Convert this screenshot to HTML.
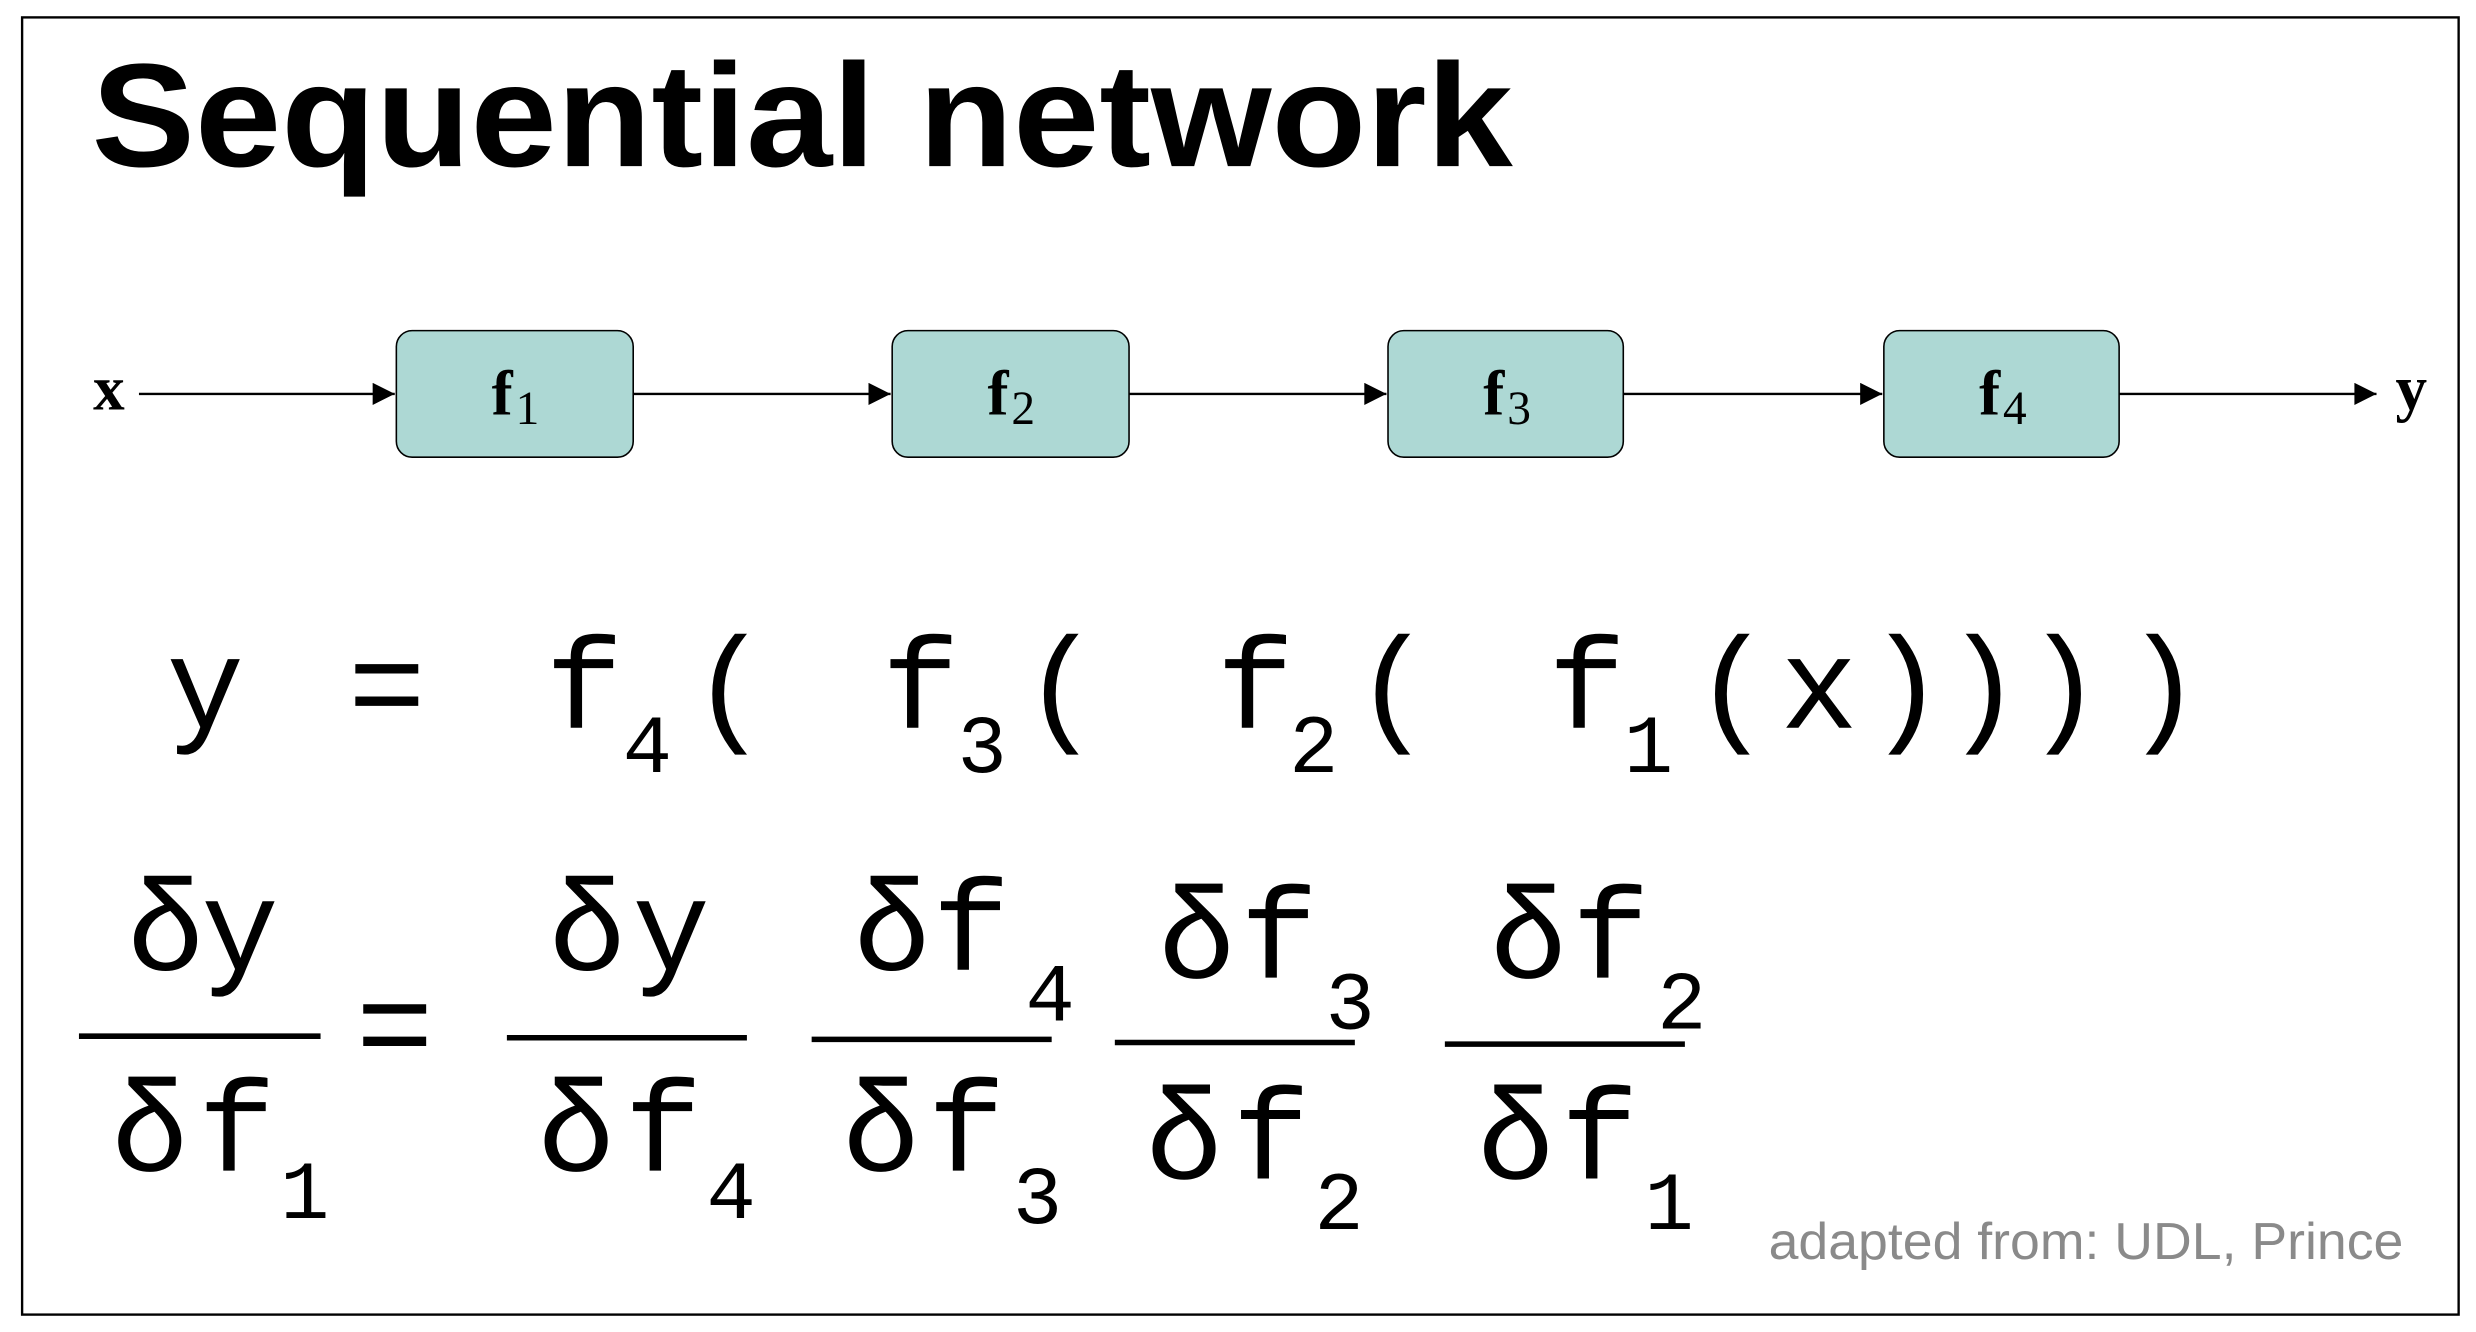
<!DOCTYPE html>
<html><head><meta charset="utf-8"><style>
html,body{margin:0;padding:0;background:#fff;width:2476px;height:1332px;overflow:hidden}
svg{display:block}
.m{font-family:"Liberation Mono","DejaVu Sans Mono",monospace;font-size:82px;text-anchor:middle;fill:#000}
.s{font-family:"Liberation Mono","DejaVu Sans Mono",monospace;font-size:52px;text-anchor:middle;fill:#000}
.b{font-family:"Liberation Serif",serif;font-weight:bold;font-size:40px;text-anchor:middle}
.bs{font-family:"Liberation Serif",serif;font-size:30px;text-anchor:middle}
</style></head><body>
<svg width="2476" height="1332" viewBox="0 0 1568 842" preserveAspectRatio="none" xmlns="http://www.w3.org/2000/svg">
<defs><marker id="a" viewBox="0 0 10 10" refX="10" refY="5" markerWidth="18" markerHeight="14" markerUnits="userSpaceOnUse" orient="auto"><path d="M0,0 L10,5 L0,10 z" fill="#000"/></marker></defs>
<rect x="14" y="11" width="1543" height="820" fill="#fff" stroke="#000" stroke-width="1.5"/>
<text x="58" y="105" font-family="Liberation Sans,Arial,sans-serif" font-weight="bold" font-size="93" textLength="900" lengthAdjust="spacingAndGlyphs">Sequential network</text>

<g stroke="#000" stroke-width="1.5" fill="none">
<line x1="88" y1="249" x2="250" y2="249" marker-end="url(#a)"/>
<line x1="401" y1="249" x2="564" y2="249" marker-end="url(#a)"/>
<line x1="715" y1="249" x2="878" y2="249" marker-end="url(#a)"/>
<line x1="1028" y1="249" x2="1192" y2="249" marker-end="url(#a)"/>
<line x1="1342" y1="249" x2="1505" y2="249" marker-end="url(#a)"/>
</g>
<g fill="#add8d4" stroke="#000" stroke-width="1">
<rect x="251" y="209" width="150" height="80" rx="10"/>
<rect x="565" y="209" width="150" height="80" rx="10"/>
<rect x="879" y="209" width="149" height="80" rx="10"/>
<rect x="1193" y="209" width="149" height="80" rx="10"/>
</g>
<text x="69" y="259" class="b">x</text>
<text x="1527" y="259" class="b">y</text>
<text x="318" y="262" class="b">f</text><text x="334" y="268" class="bs">1</text>
<text x="632" y="262" class="b">f</text><text x="648" y="268" class="bs">2</text>
<text x="946" y="262" class="b">f</text><text x="962" y="268" class="bs">3</text>
<text x="1260" y="262" class="b">f</text><text x="1276" y="268" class="bs">4</text>

<text x="130" y="460" class="m">y</text>
<text x="245" y="460" class="m">=</text>
<text x="370" y="460" class="m">f</text><text x="410" y="488" class="s">4</text>
<text x="462" y="460" class="m">(</text>
<text x="583" y="460" class="m">f</text><text x="622" y="488" class="s">3</text>
<text x="672" y="460" class="m">(</text>
<text x="795" y="460" class="m">f</text><text x="832" y="488" class="s">2</text>
<text x="882" y="460" class="m">(</text>
<text x="1005" y="460" class="m">f</text><text x="1044" y="488" class="s">1</text>
<text x="1097" y="460" class="m">(</text>
<text x="1152" y="460" class="m">x</text>
<text x="1207" y="460" class="m">)</text>
<text x="1256" y="460" class="m">)</text>
<text x="1307" y="460" class="m">)</text>
<text x="1370" y="460" class="m">)</text>

<g stroke="#000" stroke-width="3.5">
<line x1="50" y1="655" x2="203" y2="655"/>
<line x1="321" y1="656" x2="473" y2="656"/>
<line x1="514" y1="657" x2="666" y2="657"/>
<line x1="706" y1="659" x2="858" y2="659"/>
<line x1="915" y1="660" x2="1067" y2="660"/>
</g>
<text x="105" y="613" class="m">δ</text><text x="152" y="613" class="m">y</text>
<text x="95" y="740" class="m">δ</text><text x="150" y="740" class="m">f</text><text x="193" y="770" class="s">1</text>
<text x="250" y="675" class="m">=</text>
<text x="372" y="613" class="m">δ</text><text x="425" y="613" class="m">y</text>
<text x="365" y="740" class="m">δ</text><text x="420" y="740" class="m">f</text><text x="463" y="770" class="s">4</text>
<text x="565" y="613" class="m">δ</text><text x="615" y="613" class="m">f</text><text x="665" y="645" class="s">4</text>
<text x="758" y="618" class="m">δ</text><text x="810" y="618" class="m">f</text><text x="855" y="650" class="s">3</text>
<text x="558" y="740" class="m">δ</text><text x="612" y="740" class="m">f</text><text x="657" y="773" class="s">3</text>
<text x="750" y="745" class="m">δ</text><text x="805" y="745" class="m">f</text><text x="848" y="777" class="s">2</text>
<text x="968" y="618" class="m">δ</text><text x="1020" y="618" class="m">f</text><text x="1065" y="650" class="s">2</text>
<text x="960" y="745" class="m">δ</text><text x="1013" y="745" class="m">f</text><text x="1057" y="777" class="s">1</text>

<text x="1522" y="796" text-anchor="end" font-family="Liberation Sans,Arial,sans-serif" font-size="33" fill="#8a8a8a" textLength="402" lengthAdjust="spacingAndGlyphs">adapted from: UDL, Prince</text>
</svg>
</body></html>
